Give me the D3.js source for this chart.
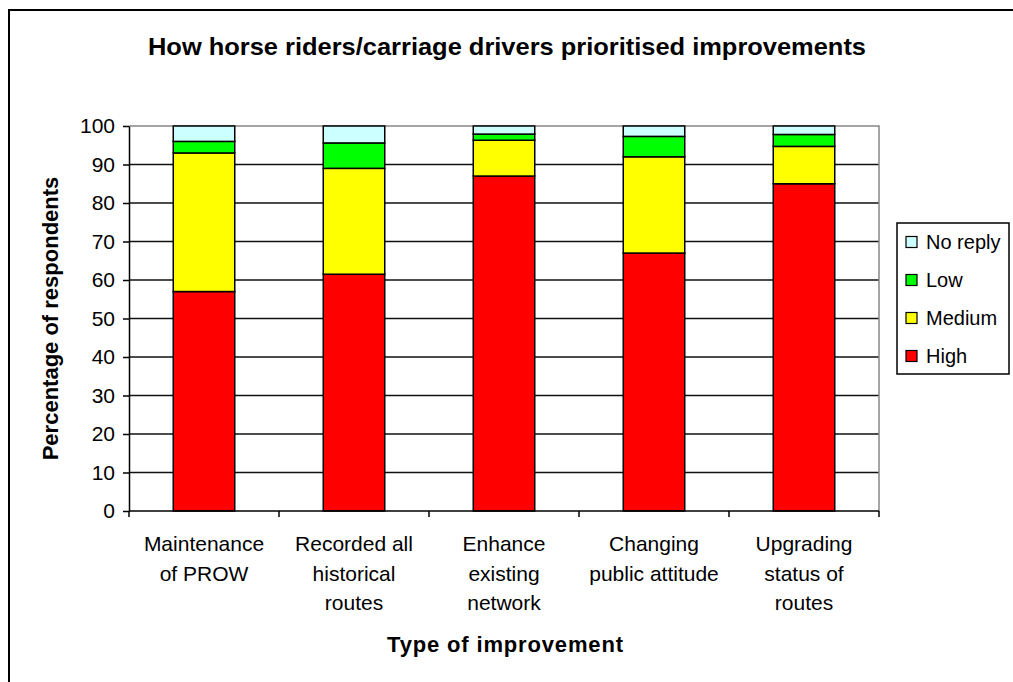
<!DOCTYPE html>
<html>
<head>
<meta charset="utf-8">
<script src="https://cdn.jsdelivr.net/npm/d3@7/dist/d3.min.js"></script>
<style>
  html, body { margin: 0; padding: 0; background: #fff; }
  svg { display: block; font-family: Arial, "Liberation Sans", sans-serif; }
</style>
</head>
<body>
<svg id="chart" width="1013" height="682"></svg>
<script>
// Survey results: share of respondents per priority, by type of improvement
const categories = [
  ["Maintenance", "of PROW"],
  ["Recorded all", "historical", "routes"],
  ["Enhance", "existing", "network"],
  ["Changing", "public attitude"],
  ["Upgrading", "status of", "routes"]
];
const high    = [57, 61.5, 87, 67, 85];
const medium  = [36, 27.5, 9.3, 25, 9.7];
const low     = [3, 6.6, 1.6, 5.3, 3.1];
const noReply = [4, 4.4, 2.1, 2.7, 2.2];
const yTicks  = [0, 10, 20, 30, 40, 50, 60, 70, 80, 90, 100];

const seriesNames  = ["High", "Medium", "Low", "No reply"];
const seriesColors = ["#FF0000", "#FFFF00", "#00FF00", "#CCFFFF"];

const rows = categories.map((c, i) => ({
  idx: i,
  "High": high[i], "Medium": medium[i], "Low": low[i], "No reply": noReply[i]
}));
const stacked = d3.stack().keys(seriesNames)(rows);

const svg = d3.select("#chart");
const plot = { left: 129, right: 879, top: 126, bottom: 511 };

// outer chart frame
svg.append("rect")
  .attr("x", 9).attr("y", 10).attr("width", 1020).attr("height", 690)
  .attr("fill", "#fff").attr("stroke", "#000").attr("stroke-width", 2);

const x = d3.scaleBand()
  .domain(d3.range(categories.length))
  .range([plot.left, plot.right])
  .paddingInner(0.59).paddingOuter(0.295);
const xEdges = d3.scaleLinear().domain([0, categories.length]).range([plot.left, plot.right]);
const y = d3.scaleLinear().domain([0, 100]).range([plot.bottom, plot.top]);

// gridlines
svg.append("g")
  .selectAll("line")
  .data(yTicks.filter(t => t > 0 && t < 100))
  .join("line")
  .attr("x1", plot.left).attr("x2", plot.right)
  .attr("y1", d => y(d)).attr("y2", d => y(d))
  .attr("stroke", "#111").attr("stroke-width", 1.5);

// plot area border (top and right)
svg.append("path")
  .attr("d", `M${plot.left},${y(100)}H${plot.right}V${plot.bottom}`)
  .attr("fill", "none").attr("stroke", "#888").attr("stroke-width", 1.5);

// stacked bars
svg.append("g")
  .selectAll("g")
  .data(stacked)
  .join("g")
  .attr("fill", (d, i) => seriesColors[i])
  .selectAll("rect")
  .data(d => d)
  .join("rect")
  .attr("x", d => x(d.data.idx))
  .attr("width", x.bandwidth())
  .attr("y", d => y(d[1]))
  .attr("height", d => y(d[0]) - y(d[1]))
  .attr("stroke", "#000").attr("stroke-width", 1.5);

// y axis
const yAxis = d3.axisLeft(y).tickValues(yTicks).tickSize(6).tickPadding(8).tickSizeOuter(0);
const gy = svg.append("g").attr("transform", `translate(${plot.left},0)`).call(yAxis);
gy.select(".domain").attr("stroke", "#000").attr("stroke-width", 1.5);
gy.selectAll(".tick line").attr("stroke", "#000").attr("stroke-width", 1.5);
gy.selectAll(".tick text").attr("font-size", 21).attr("fill", "#000")
  .attr("font-family", "Arial, 'Liberation Sans', sans-serif");

// x axis with ticks at category boundaries
const gx = svg.append("g").attr("transform", `translate(0,${plot.bottom})`);
gx.append("line").attr("x1", plot.left).attr("x2", plot.right)
  .attr("stroke", "#000").attr("stroke-width", 1.5);
gx.selectAll("line.tk")
  .data(d3.range(categories.length + 1))
  .join("line").attr("class", "tk")
  .attr("x1", d => xEdges(d)).attr("x2", d => xEdges(d))
  .attr("y1", 0).attr("y2", 6)
  .attr("stroke", "#000").attr("stroke-width", 1.5);

// category labels
const labels = svg.append("g")
  .attr("font-size", 21).attr("text-anchor", "middle").attr("fill", "#000");
categories.forEach((lines, i) => {
  const cx = x(i) + x.bandwidth() / 2;
  const t = labels.append("text").attr("x", cx).attr("y", 551);
  lines.forEach((ln, j) => {
    t.append("tspan").attr("x", cx)
      .attr("dy", j === 0 ? 0 : 29.5).text(ln);
  });
});

// titles
svg.append("text")
  .attr("x", 507).attr("y", 55).attr("text-anchor", "middle")
  .attr("font-size", 24).attr("font-weight", "bold")
  .attr("textLength", 718).attr("lengthAdjust", "spacingAndGlyphs")
  .text("How horse riders/carriage drivers prioritised improvements");

svg.append("text")
  .attr("transform", `translate(58,${(plot.top + plot.bottom) / 2}) rotate(-90)`)
  .attr("text-anchor", "middle")
  .attr("font-size", 22).attr("font-weight", "bold")
  .text("Percentage of respondents");

svg.append("text")
  .attr("x", 505).attr("y", 652).attr("text-anchor", "middle")
  .attr("font-size", 22).attr("font-weight", "bold")
  .attr("textLength", 236).attr("lengthAdjust", "spacing")
  .text("Type of improvement");

// legend (No reply on top)
const legend = svg.append("g");
legend.append("rect")
  .attr("x", 897).attr("y", 223).attr("width", 112).attr("height", 151)
  .attr("fill", "#fff").attr("stroke", "#000").attr("stroke-width", 1.5);
const legendItems = seriesNames.map((n, i) => ({ name: n, color: seriesColors[i] })).reverse();
const ly = d3.scalePoint().domain(legendItems.map(d => d.name)).range([242, 356]);
const li = legend.selectAll("g.item").data(legendItems).join("g").attr("class", "item");
li.append("rect")
  .attr("x", 906).attr("y", d => ly(d.name) - 5.5)
  .attr("width", 11).attr("height", 11)
  .attr("fill", d => d.color).attr("stroke", "#000").attr("stroke-width", 1.2);
li.append("text")
  .attr("x", 926).attr("y", d => ly(d.name) + 7)
  .attr("font-size", 20).attr("fill", "#000")
  .text(d => d.name);
</script>
</body>
</html>
